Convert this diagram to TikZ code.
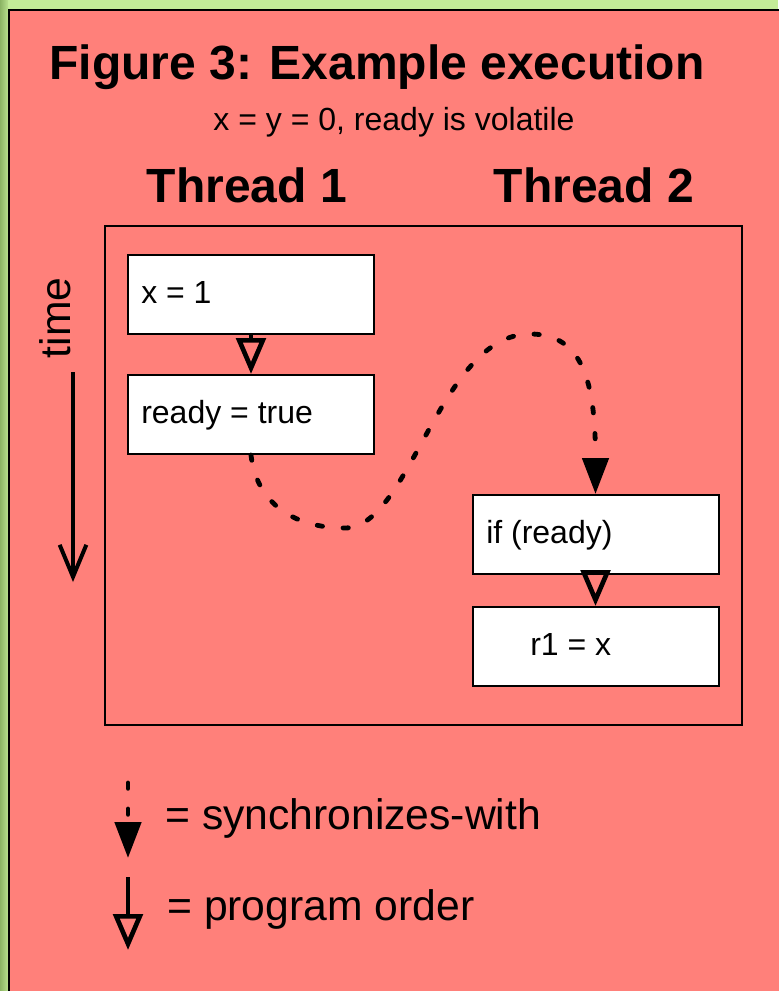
\documentclass[tikz,border=0pt]{standalone}
\usepackage{fontspec}
\setmainfont{Liberation Sans}
\usetikzlibrary{arrows.meta}
\definecolor{bggreen}{RGB}{196,236,152}
\definecolor{darkgreen}{RGB}{140,180,100}
\definecolor{panel}{RGB}{255,128,122}
\begin{document}
\begin{tikzpicture}[x=0.75pt,y=-0.75pt,
  title/.style={font=\fontsize{36}{40}\selectfont\bfseries, inner sep=0, anchor=base},
  sub/.style={font=\fontsize{24}{28}\selectfont, inner sep=0, anchor=base},
  box/.style={draw, fill=white, line width=1.5pt, minimum width=184.5pt, minimum height=59.25pt, inner sep=0},
  boxtext/.style={font=\fontsize{24}{28}\selectfont, inner sep=0, anchor=base west},
  legend/.style={font=\fontsize{32}{36}\selectfont, inner sep=0, anchor=base west},
  po/.style={line width=3.2pt, -{Triangle[open, length=27pt, width=22pt, line width=3.5pt]}},
  sync/.style={line width=3.6pt, line cap=round, dash pattern=on 4pt off 15.5pt, -{Triangle[length=27pt,width=19.5pt]}}
]
\useasboundingbox (0,0) rectangle (778,991);
\fill[bggreen] (0,0) rectangle (778,991);
\shade[left color=darkgreen, right color=bggreen!80!darkgreen] (0,0) rectangle (8,991);
\draw[fill=panel, line width=1.8pt] (9,10) rectangle (800,1010);

\node[title] (title) at (377,80) {Figure 3: Example execution};
\node[sub] (sub) at (394,131) {x = y = 0, ready is volatile};
\node[title] (t1) at (247,203) {Thread 1};
\node[title] (t2) at (594,203) {Thread 2};

\node[draw, line width=1.5pt, minimum width=477.75pt, minimum height=374.25pt, inner sep=0] (frame) at (423.5,475.5) {};

\node[box] (A) at (251,294) {};
\node[box] (B) at (251,414.5) {};
\node[box] (C) at (595.5,534.5) {};
\node[box] (D) at (595.5,646.5) {};
\node[boxtext] (Atext) at (141,303) {x = 1};
\node[boxtext] (Btext) at (141,423) {ready = true};
\node[boxtext] (Ctext) at (486,543) {if (ready)};
\node[boxtext] (Dtext) at (530,655) {r1 = x};

\draw[po] (A.south) -- (B.north);
\draw[po] (C.south) -- (D.north);

\coordinate (w1) at (345,528);
\coordinate (w2) at (530,334);
\draw[sync] (B.south) .. controls (256,500) and (290,528) .. (w1)
  .. controls (410,528) and (440,334) .. (w2)
  .. controls (582,334) and (595.5,380) .. (C.north);

\node[rotate=90, anchor=base, font=\fontsize{32}{36}\selectfont, inner sep=0] (time) at (70,318) {time};
\coordinate (ta) at (73,372);
\coordinate (tb) at (73,582);
\draw[line width=3pt, -{Straight Barb[length=24pt,width=20pt]}] (ta) -- (tb);

\coordinate (s1) at (128,783);
\coordinate (s2) at (128,858);
\draw[sync] (s1) -- (s2);
\node[legend] (l1) at (165,829) {= synchronizes-with};

\coordinate (p1) at (128,877);
\coordinate (p2) at (128,950);
\draw[po] (p1) -- (p2);
\node[legend] (l2) at (167,920) {= program order};
\end{tikzpicture}
\end{document}
